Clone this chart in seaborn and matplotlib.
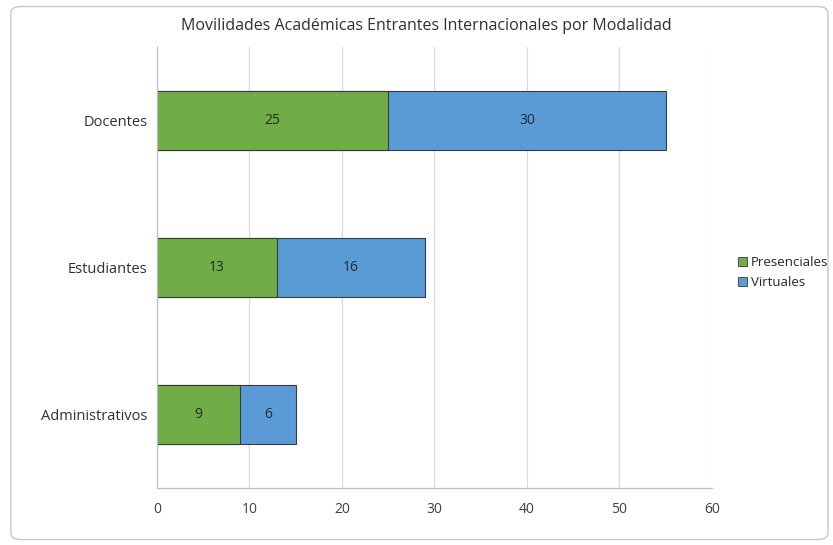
import pandas as pd
import numpy as np
import matplotlib
matplotlib.use("Agg")
import matplotlib.pyplot as plt
import seaborn as sns
from matplotlib.patches import FancyBboxPatch, Patch

categorias = ["Docentes", "Estudiantes", "Administrativos"]
presenciales = [25, 13, 9]
virtuales = [30, 16, 6]
x_ticks = [0, 10, 20, 30, 40, 50, 60]

verde = "#70AD47"
azul = "#5B9BD5"

sns.set_theme(style="white")
plt.rcParams["font.family"] = ["Open Sans", "DejaVu Sans"]

df = pd.DataFrame({"categoria": categorias,
                   "Presenciales": presenciales,
                   "Virtuales": virtuales})
df["total"] = df["Presenciales"] + df["Virtuales"]

fig = plt.figure(figsize=(8.33, 5.45), dpi=100)
ax = fig.add_axes([0.1885, 0.1046, 0.666, 0.8092])

# stacked: totals in blue, presenciales drawn over in green
sns.barplot(data=df, x="total", y="categoria", color=azul, width=0.4,
            edgecolor="#3a3a3a", linewidth=0.8, saturation=1, ax=ax)
sns.barplot(data=df, x="Presenciales", y="categoria", color=verde, width=0.4,
            edgecolor="#3a3a3a", linewidth=0.8, saturation=1, ax=ax)

for i, row in df.iterrows():
    ax.text(row["Presenciales"] / 2, i, str(row["Presenciales"]),
            ha="center", va="center", fontsize=10, color="#1f2a1a")
    ax.text(row["Presenciales"] + row["Virtuales"] / 2, i, str(row["Virtuales"]),
            ha="center", va="center", fontsize=10, color="#1f2a3a")

ax.set_xlim(0, 60)
ax.set_ylim(2.5, -0.5)
ax.set_xticks(x_ticks)
ax.set_xticklabels([str(t) for t in x_ticks], fontsize=10, color="#404040")
ax.tick_params(axis="y", labelsize=10.5, labelcolor="#303030", length=0, pad=7)
ax.tick_params(axis="x", length=0, pad=10)
ax.set_xlabel("")
ax.set_ylabel("")
ax.xaxis.grid(True, color="#d9d9d9", linewidth=0.9)
ax.set_axisbelow(True)
for s in ["top", "right"]:
    ax.spines[s].set_visible(False)
for s in ["left", "bottom"]:
    ax.spines[s].set_color("#bfbfbf")
    ax.spines[s].set_linewidth(0.9)

fig.text(0.512, 0.952, "Movilidades Académicas Entrantes Internacionales por Modalidad",
         ha="center", va="center", fontsize=11.5, color="#303030")

handles = [Patch(facecolor=verde, edgecolor="#3a3a3a", linewidth=0.6, label="Presenciales"),
           Patch(facecolor=azul, edgecolor="#3a3a3a", linewidth=0.6, label="Virtuales")]
fig.legend(handles=handles, loc="center left", bbox_to_anchor=(0.878, 0.5),
           frameon=False, fontsize=9.5, handlelength=0.7, handleheight=0.7,
           handletextpad=0.3, labelspacing=0.5, borderpad=0)

border = FancyBboxPatch((0.013, 0.01), 0.981, 0.978, boxstyle="round,pad=0,rounding_size=0.012",
                        transform=fig.transFigure, facecolor="none",
                        edgecolor="#c8c8c8", linewidth=1.0)
fig.patches.append(border)

fig.savefig("out.png", dpi=100)
